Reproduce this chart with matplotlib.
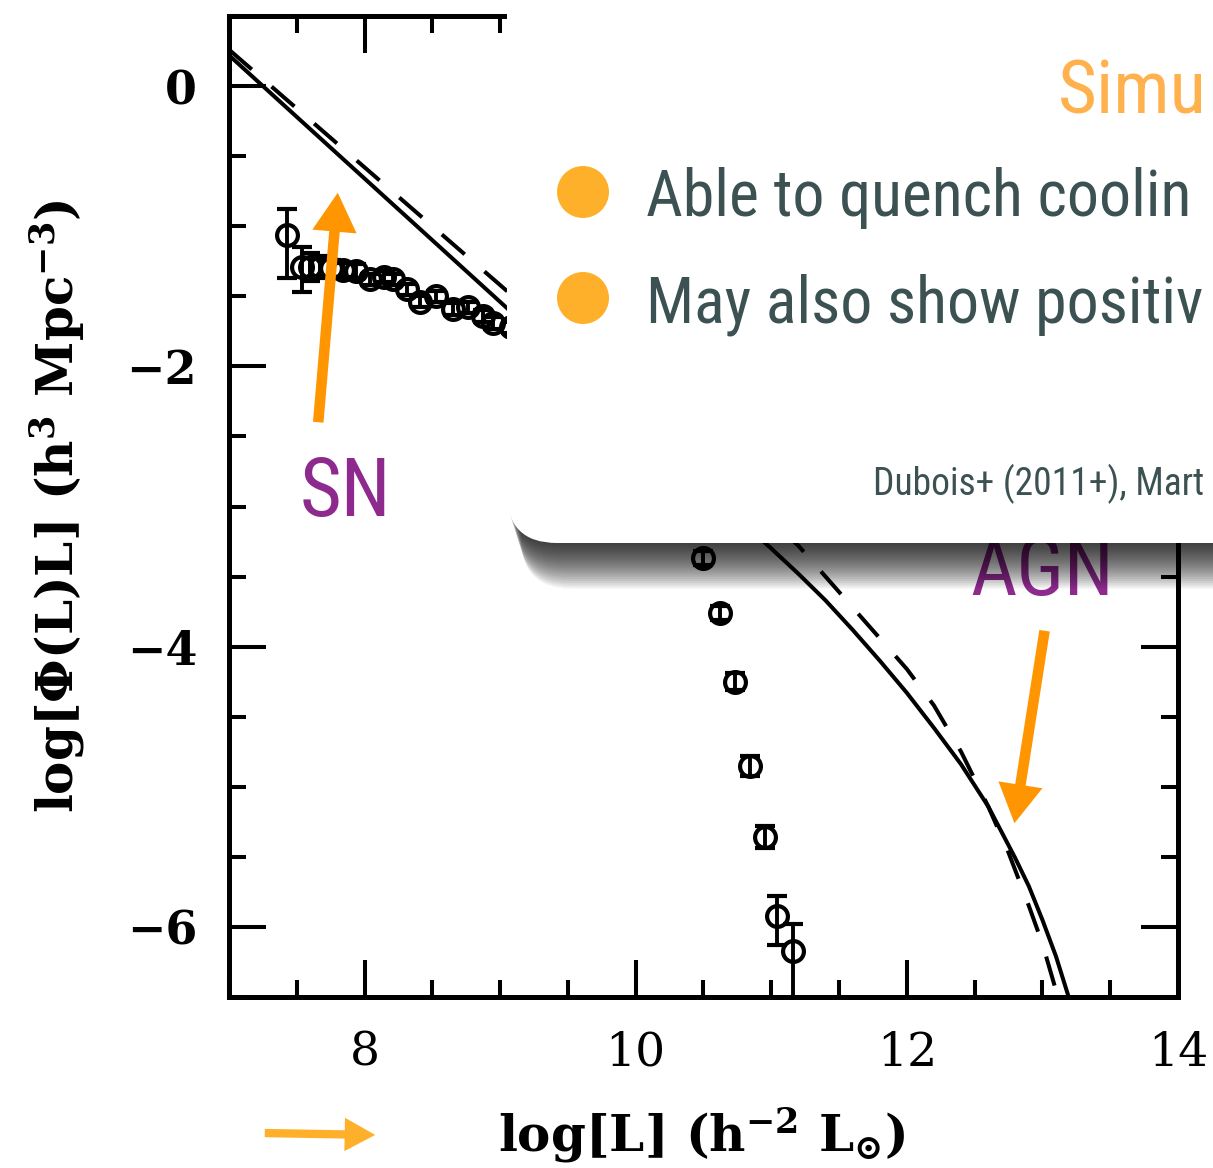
import numpy as np
import matplotlib
matplotlib.use("Agg")
import matplotlib.pyplot as plt
from matplotlib.ticker import MultipleLocator
from matplotlib.patches import FancyBboxPatch, Circle, FancyArrowPatch

# observed luminosity function (log L, log phi L) with asymmetric errors
lum = [7.43, 7.54, 7.60, 7.67, 7.75, 7.84, 7.94, 8.04, 8.14, 8.21, 8.31, 8.41,
       8.53, 8.65, 8.76, 8.87, 8.95, 9.08, 9.19, 9.30, 9.41, 9.52, 9.63, 9.74,
       9.85, 9.96, 10.07, 10.18, 10.29, 10.40, 10.50, 10.62, 10.73, 10.84,
       10.95, 11.04, 11.16]
phi = [-1.06, -1.29, -1.29, -1.29, -1.30, -1.31, -1.32, -1.38, -1.36, -1.38,
       -1.45, -1.54, -1.50, -1.59, -1.58, -1.64, -1.69, -1.72, -1.75, -1.78,
       -1.82, -1.87, -1.94, -2.02, -2.12, -2.25, -2.40, -2.58, -2.80, -3.05,
       -3.37, -3.76, -4.25, -4.85, -5.36, -5.92, -6.17]
err_lo = [0.31, 0.18, 0.10, 0.08, 0.06, 0.05, 0.05, 0.04, 0.04, 0.04, 0.04,
          0.04, 0.04, 0.04, 0.04, 0.04, 0.04, 0.04, 0.04, 0.04, 0.04, 0.04,
          0.04, 0.04, 0.04, 0.04, 0.04, 0.04, 0.04, 0.05, 0.05, 0.05, 0.06,
          0.07, 0.08, 0.21, 0.45]
err_hi = [0.18, 0.14, 0.10, 0.08, 0.06, 0.05, 0.05, 0.04, 0.04, 0.04, 0.04,
          0.04, 0.04, 0.04, 0.04, 0.04, 0.04, 0.04, 0.04, 0.04, 0.04, 0.04,
          0.04, 0.04, 0.04, 0.04, 0.04, 0.04, 0.04, 0.05, 0.05, 0.05, 0.06,
          0.07, 0.08, 0.14, 0.19]

# model with AGN feedback (solid) and variant (dashed)
model_x = [7.0, 7.5, 8.0, 8.5, 9.0, 9.5, 10.0, 10.5, 11.0, 11.2, 11.4, 11.6,
           11.8, 12.0, 12.2, 12.4, 12.6, 12.8, 12.9, 13.0, 13.1, 13.2]
model_y = [0.22, -0.22, -0.66, -1.10, -1.54, -1.98, -2.42, -2.86, -3.30, -3.48,
           -3.67, -3.88, -4.10, -4.33, -4.58, -4.84, -5.14, -5.51, -5.71, -5.95,
           -6.21, -6.52]
alt_x = [7.0, 7.5, 8.0, 8.5, 9.0, 9.5, 10.0, 10.5, 11.0, 11.2, 11.4, 11.6,
         11.8, 12.0, 12.2, 12.4, 12.6, 12.75, 12.9, 13.0, 13.12]
alt_y = [0.26, -0.16, -0.58, -1.00, -1.42, -1.84, -2.26, -2.68, -3.10, -3.28,
         -3.50, -3.72, -3.94, -4.16, -4.42, -4.75, -5.14, -5.47, -5.85, -6.12,
         -6.52]

xticks = [8, 10, 12, 14]
yticks = [0, -2, -4, -6]
ytick_labels = ["0", "\u22122", "\u22124", "\u22126"]

W, H = 1213, 1168
plt.rcParams["mathtext.fontset"] = "dejavuserif"
plt.rcParams["mathtext.default"] = "bf"
fig = plt.figure(figsize=(W / 100, H / 100), dpi=100)
ax = fig.add_axes([229 / W, 1 - 997 / H, (1178 - 229) / W, (997 - 16) / H])

ax.plot(model_x, model_y, color="black", lw=2.9, solid_joinstyle="round")
ax.plot(alt_x, alt_y, color="black", lw=2.9, dashes=(7.5, 6.5))
ax.errorbar(lum, phi, yerr=[err_lo, err_hi], fmt="o", ms=15, mew=3,
            mfc="none", mec="black", ecolor="black", elinewidth=2.8,
            capsize=7.5, capthick=2.8)

ax.set_xlim(7, 14)
ax.set_ylim(-6.5, 0.5)
ax.xaxis.set_minor_locator(MultipleLocator(0.5))
ax.yaxis.set_minor_locator(MultipleLocator(0.5))
ax.set_xticks(xticks)
ax.set_yticks(yticks)
ax.set_yticklabels(ytick_labels)
ax.tick_params(which="both", direction="in", top=True, right=True, width=2.9)
ax.tick_params(which="major", length=26.5)
ax.tick_params(which="minor", length=12)
ax.tick_params(axis="y", pad=23)
ax.tick_params(axis="x", pad=24)
for lbl in ax.get_yticklabels():
    lbl.set_fontfamily("DejaVu Serif")
    lbl.set_fontsize(33)
    lbl.set_fontweight("bold")
for lbl in ax.get_xticklabels():
    lbl.set_fontfamily("DejaVu Serif")
    lbl.set_fontsize(34)
for sp in ax.spines.values():
    sp.set_linewidth(3.6)

ax.set_xlabel(r"log[L] (h$^{-2}$ L$_{\odot}$)", fontsize=36,
              family="DejaVu Serif", fontweight="bold")
ax.set_ylabel(r"log[$\Phi$(L)L] (h$^3$ Mpc$^{-3}$)", fontsize=36,
              family="DejaVu Serif", fontweight="bold")
ax.xaxis.set_label_coords(0.498, -0.11)
ax.yaxis.set_label_coords(-0.15, 0.50)

# overlay in pixel coordinates for the slide annotations
ov = fig.add_axes([0, 0, 1, 1], zorder=5)
ov.set_xlim(0, W)
ov.set_ylim(H, 0)
ov.axis("off")
ov.patch.set_visible(False)

slide_font = ["Roboto Condensed", "Liberation Sans Narrow", "DejaVu Sans"]
purple = "#8e2a8e"
orange = "#ff9500"
bullet = "#ffb02a"
slate = "#3c5152"

ov.text(300, 516, "SN", color=purple, fontsize=58, family=slide_font,
        fontstretch="condensed", va="baseline", ha="left", zorder=1)
ov.text(970, 595, "AGN", color=purple, fontsize=58, family=slide_font,
        fontstretch="condensed", va="baseline", ha="left", zorder=1)

# soft drop shadow under the panel
for i in range(1, 25):
    ov.add_patch(FancyBboxPatch((507 + i * 0.6, -60), 800, 603 + i * 1.9,
                                boxstyle="round,pad=0,rounding_size=50",
                                fc="black", ec="none", alpha=0.05, zorder=2))
ov.add_patch(FancyBboxPatch((507, -60), 800, 603,
                            boxstyle="round,pad=0,rounding_size=50",
                            fc="white", ec="none", zorder=3))

ov.text(1058, 113, "Simu", color="#ffb14e", fontsize=54, family=slide_font,
        fontstretch="condensed", va="baseline", ha="left", zorder=4)
for yc, line in [(192, "Able to quench coolin"), (298, "May also show positiv")]:
    ov.add_patch(Circle((583, yc), 26, fc=bullet, ec="none", zorder=4))
    ov.text(646, yc + 24, line, color=slate, fontsize=46, family=slide_font,
            fontstretch="condensed", va="baseline", ha="left", zorder=4)
ov.text(873, 495, "Dubois+ (2011+), Mart", color=slate, fontsize=27,
        family=slide_font, fontstretch="condensed", va="baseline", ha="left",
        zorder=4)

# arrows pointing at the two feedback regimes and the x axis
arrow_kw = dict(arrowstyle="simple,head_width=1.6,head_length=1.4,tail_width=0.38",
                mutation_scale=20, lw=0, zorder=4)
ov.add_patch(FancyArrowPatch((318, 425), (338, 190), color=orange, **arrow_kw))
ov.add_patch(FancyArrowPatch((1045, 628), (1014, 826), color=orange, **arrow_kw))
ov.add_patch(FancyArrowPatch((262, 1133), (378, 1135), color=bullet,
                             arrowstyle="simple,head_width=1.2,head_length=1.1,tail_width=0.3",
                             mutation_scale=20, lw=0, zorder=4))

fig.savefig("out.png", dpi=100)
